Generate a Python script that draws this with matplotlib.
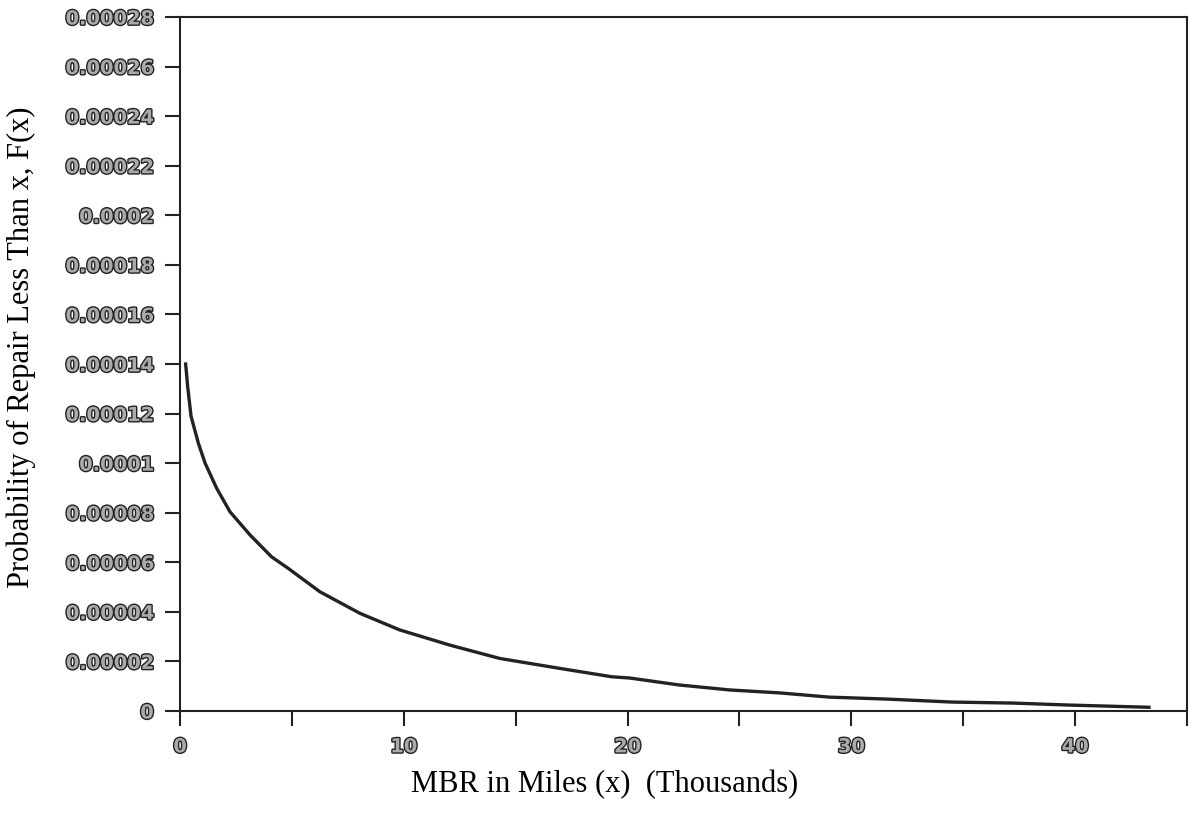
import matplotlib
matplotlib.use('Agg')
import matplotlib.pyplot as plt
import matplotlib.patheffects as pe
from matplotlib.ticker import MultipleLocator

# curve: MBR (thousands of miles) vs F(x)
mbr_thousands = [0.25, 0.34, 0.49, 0.82, 1.12, 1.64, 2.23, 3.13, 4.09, 4.84,
                 6.25, 8.04, 9.82, 12.05, 14.29, 16.96, 19.3, 20.1, 22.3,
                 24.55, 26.8, 29.0, 31.6, 34.5, 37.2, 39.7, 43.3]
prob_repair = [1.40e-4, 1.31e-4, 1.19e-4, 1.08e-4, 1.00e-4, 8.98e-5, 8.04e-5,
               7.10e-5, 6.22e-5, 5.75e-5, 4.81e-5, 3.94e-5, 3.27e-5, 2.66e-5,
               2.12e-5, 1.72e-5, 1.38e-5, 1.33e-5, 1.05e-5, 8.5e-6, 7.3e-6,
               5.6e-6, 4.8e-6, 3.6e-6, 3.2e-6, 2.4e-6, 1.5e-6]

x_ticks = [0, 10, 20, 30, 40]
y_ticks = [i * 0.00002 for i in range(15)]
y_labels = ['0', '0.00002', '0.00004', '0.00006', '0.00008', '0.0001',
            '0.00012', '0.00014', '0.00016', '0.00018', '0.0002',
            '0.00022', '0.00024', '0.00026', '0.00028']

fig = plt.figure(figsize=(11.9, 8.23), dpi=100)
ax = fig.add_axes([0.1513, 0.1361, 0.8462, 0.8432])

ax.plot(mbr_thousands, prob_repair, color='#222222', linewidth=2.4)

ax.set_xlim(0, 45)
ax.set_ylim(0, 0.00028)
ax.set_xticks(x_ticks)
ax.xaxis.set_minor_locator(MultipleLocator(5))
ax.set_yticks(y_ticks)
ax.set_yticklabels(y_labels)

ax.tick_params(axis='both', which='both', direction='out', length=11,
               width=1.5, color='#222222', pad=8)
ax.tick_params(axis='x', pad=8)

outline = [pe.withStroke(linewidth=2, foreground='#222222')]
for lbl in ax.get_xticklabels() + ax.get_yticklabels():
    lbl.set_fontsize(14)
    lbl.set_fontweight('bold')
    lbl.set_color('#aaaaaa')
    lbl.set_path_effects(outline)

for sp in ax.spines.values():
    sp.set_linewidth(1.5)
    sp.set_color('#222222')

ax.set_xlabel('MBR in Miles (x)  (Thousands)', family='Liberation Serif',
              fontsize=22)
ax.set_ylabel('Probability of Repair Less Than x, F(x)',
              family='Liberation Serif', fontsize=22)
ax.xaxis.set_label_coords(0.422, -0.085)
ax.yaxis.set_label_coords(-0.143, 0.524)

fig.savefig('out.png', dpi=100)
